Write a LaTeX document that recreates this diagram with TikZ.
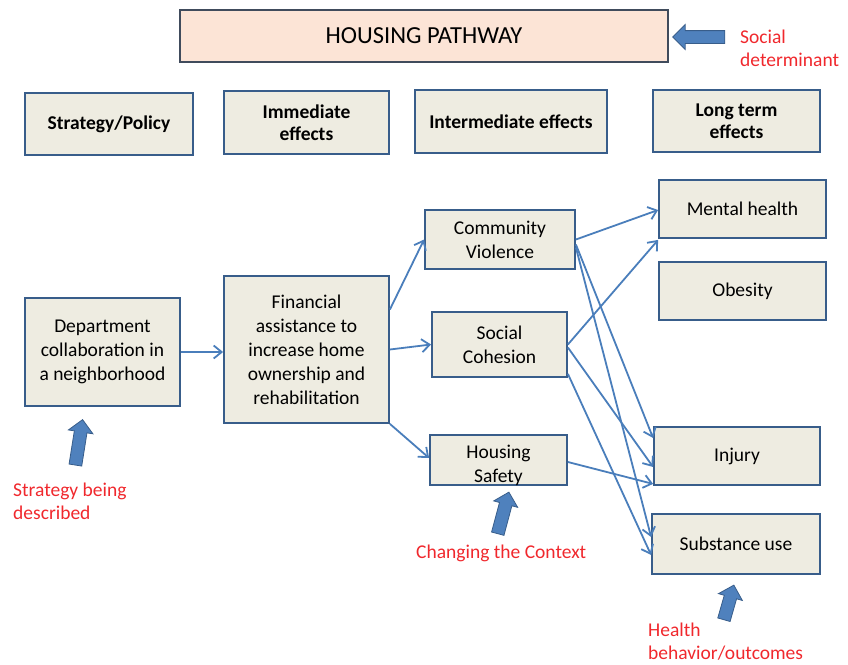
\documentclass[tikz,border=0pt]{standalone}
\usepackage{fontspec}
\setmainfont{Carlito}
\usepackage{tikz}
\usetikzlibrary{arrows.meta}
\usetikzlibrary{shapes.arrows}
\definecolor{boxfill}{HTML}{EEECE1}
\definecolor{boxline}{HTML}{385D8A}
\definecolor{titleline}{HTML}{404B5C}
\definecolor{titlefill}{HTML}{FCE4D6}
\definecolor{linkblue}{HTML}{4A7EBB}
\definecolor{notered}{HTML}{F0282D}
\definecolor{bigarrow}{HTML}{4F81BD}
\tikzstyle{stage} = [rectangle, 
draw=boxline, line width=1.8pt, 
fill=boxfill, align=center, 
font=\fontsize{19.5}{22}\selectfont\bfseries]
\tikzstyle{effect} = [rectangle, 
draw=boxline, line width=1.8pt, 
fill=boxfill, align=center, 
font=\fontsize{19.5}{24}\selectfont]
\tikzstyle{link} = [linkblue, line width=1.8pt, -{Straight Barb[length=8pt,width=13pt]}]
\tikzstyle{pointer} = [single arrow, draw=boxline, fill=bigarrow, line width=0.8pt, 
inner sep=6pt, single arrow head extend=6pt]
\tikzstyle{note} = [text=notered, align=left, anchor=west, inner sep=0pt, 
font=\fontsize{19.5}{23}\selectfont]

\begin{document}
\begin{tikzpicture} [x=1pt, y=-1pt]
    \useasboundingbox (0,0) rectangle (848,664);

    % the title and the column headers
    \node (Title) [rectangle, draw=titleline, line width=1.6pt, fill=titlefill, minimum width=488pt, minimum height=52pt, font=\fontsize{24.5}{26}\selectfont] at (424,36) {HOUSING PATHWAY};

    \node (Strategy) [stage, minimum width=168pt, minimum height=62pt] at (109,124) {Strategy/Policy};
    \node (Immediate) [stage, minimum width=165pt, minimum height=63pt] at (306.5,122.5) {Immediate\\effects};
    \node (Intermediate) [stage, minimum width=192pt, minimum height=63pt] at (511,121.5) {Intermediate effects};
    \node (LongTerm) [stage, minimum width=167pt, minimum height=62pt] at (736.5,121) {Long term\\effects};

    % the pathway boxes
    \node (Dept) [effect, minimum width=155pt, minimum height=108pt] at (102.5,352) {Department\\collaboration in\\a neighborhood};
    \node (Finance) [effect, minimum width=165pt, minimum height=147pt] at (306.5,349.5) {Financial\\assistance to\\increase home\\ownership and\\rehabilitation};

    \node (Violence) [effect, minimum width=150pt, minimum height=59pt] at (500,239.5) {Community\\Violence};
    \node (Cohesion) [effect, minimum width=135pt, minimum height=65pt] at (499.5,344.5) {Social\\Cohesion};
    \node (Safety) [effect, minimum width=137pt, minimum height=50pt, inner sep=0pt, text height=47pt, text depth=2pt] at (498.5,460) {Housing\\Safety};

    \node (Mental) [effect, minimum width=167pt, minimum height=58pt] at (742.5,209) {Mental health};
    \node (Obesity) [effect, minimum width=167pt, minimum height=58pt] at (742.5,291) {Obesity};
    \node (Injury) [effect, minimum width=166pt, minimum height=58pt] at (737,456) {Injury};
    \node (Substance) [effect, minimum width=168pt, minimum height=60pt] at (736,544) {Substance use};

    % the connectors
    \draw [link] (Dept.east) -- (Dept.east -| Finance.west);

    \draw [link] ([yshift=40pt]Finance.east) -- (Violence.west);
    \draw [link] (Finance.east) -- (Cohesion.west);
    \draw [link] (Finance.south east) -- ([yshift=2pt]Safety.west);

    \draw [link] (Violence.east) -- ([yshift=-1pt]Mental.west);
    \draw [link] ([yshift=-5pt]Violence.east) -- ([yshift=18pt]Injury.west);
    \draw [link] ([yshift=-8pt]Violence.east) -- ([yshift=7pt]Substance.west);

    \draw [link] (Cohesion.east) -- ([yshift=-1pt]Mental.south west);
    \draw [link] ([yshift=-3pt]Cohesion.east) -- ([yshift=-11pt]Injury.west);
    \draw [link] ([yshift=4pt]Cohesion.south east) -- ([yshift=-11pt]Substance.west);

    \draw [link] ([yshift=-2pt]Safety.east) -- ([yshift=2pt]Injury.south west);

    % annotations
    \node (SocialArrow) [pointer, minimum height=52pt, rotate=180] at (702,37) {};
    \node (SocialNote) [note] at (740,48) {Social\\determinant};

    \node (StrategyArrow) [pointer, minimum height=46pt, rotate=81] at (78.5,445.5) {};
    \node (StrategyNote) [note] at (13,501) {Strategy being\\described};

    \node (ContextArrow) [pointer, minimum height=43pt, rotate=75] at (502.5,516) {};
    \node (ContextNote) [note] at (416,553) {Changing the Context};

    \node (HealthArrow) [pointer, minimum height=36pt, rotate=74] at (728,605.5) {};
    \node (HealthNote) [note] at (648,642) {Health\\behavior/outcomes};

\end{tikzpicture}
\end{document}
